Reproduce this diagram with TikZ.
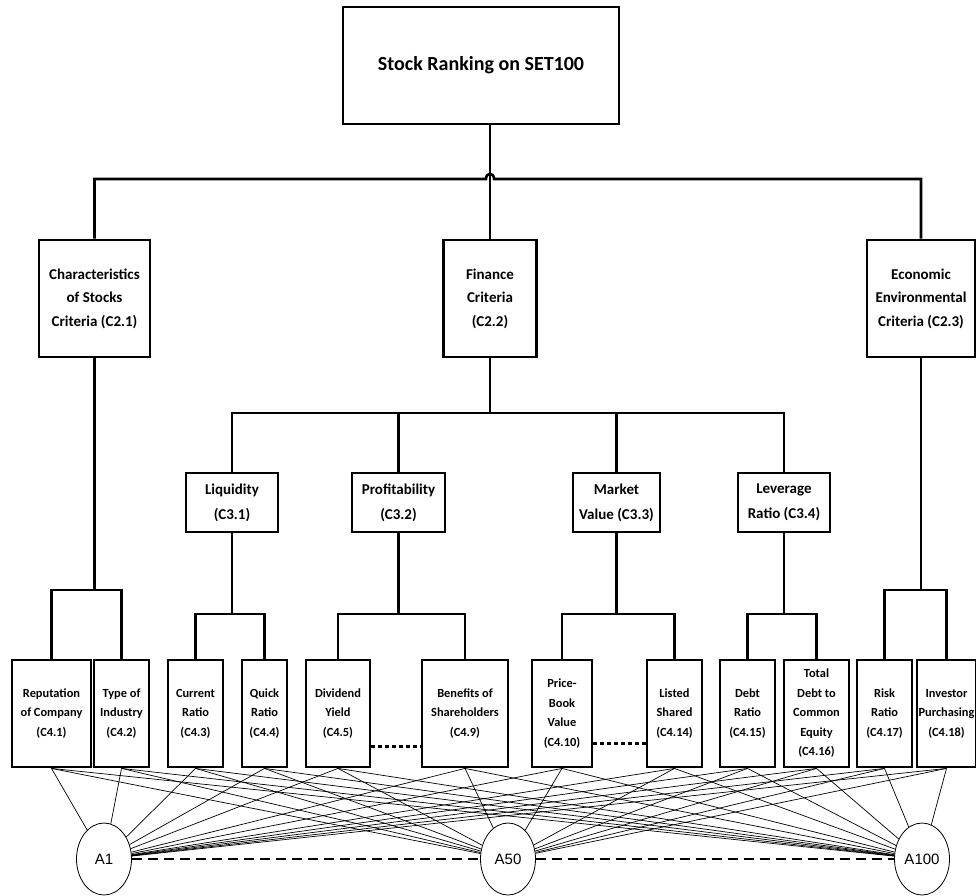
\documentclass[tikz,border=0pt]{standalone}
\usepackage{fontspec}
\setmainfont{Carlito}
\newfontfamily\arialfont{Liberation Sans}
\usetikzlibrary{shapes,calc,positioning}
\tikzstyle{goal}=[rectangle, draw=black, line width=2.6, inner sep=0pt, font=\bfseries\fontsize{20}{24}\selectfont]
\tikzstyle{crit}=[rectangle, draw=black, line width=2.8, inner sep=0pt, align=center, minimum height=117, font=\bfseries\fontsize{15}{23.5}\selectfont]
\tikzstyle{sub}=[rectangle, draw=black, line width=2.8, inner sep=0pt, align=center, minimum height=59, font=\bfseries\fontsize{15}{25}\selectfont]
\tikzstyle{leaf}=[rectangle, draw=black, line width=2.8, inner sep=0pt, align=center, minimum height=107, font=\bfseries\fontsize{12.4}{19.5}\selectfont]
\tikzstyle{alt}=[ellipse, draw=black, line width=0.8, minimum width=55, minimum height=72, inner sep=0pt, font=\arialfont\fontsize{15}{18}\selectfont]
\tikzstyle{l1}=[line width=2.6]
\tikzstyle{l2}=[line width=0.7]
\tikzstyle{dots}=[line width=2.6, dash pattern=on 4pt off 3pt]

\begin{document}
\begin{tikzpicture}[x=1pt, y=-1pt]
    \useasboundingbox (0,0) rectangle (976,895);

    \node[goal, minimum width=276, minimum height=117] at (481,65.5) (top) {Stock Ranking on SET100};

    \node[crit, minimum width=111] at (94.5,298.5) (c21) {Characteristics\\of Stocks\\Criteria (C2.1)};
    \node[crit, minimum width=93] at (490,298.5) (fin) {Finance\\Criteria\\(C2.2)};
    \node[crit, minimum width=108] at (921,298.5) (c23) {Economic\\Environmental\\Criteria (C2.3)};

    \node[sub, minimum width=92] at (232,502.5) (c31) {Liquidity\\(C3.1)};
    \node[sub, minimum width=93] at (398.5,502.5) (c32) {Profitability\\(C3.2)};
    \node[sub, minimum width=87] at (616.5,502.5) (c33) {Market\\Value (C3.3)};
    \node[sub, minimum width=92] at (784,502.5) (c34) {Leverage\\Ratio (C3.4)};

    \node[leaf, minimum width=79] at (51.5,713.5) (c41) {Reputation\\of Company\\(C4.1)};
    \node[leaf, minimum width=55] at (121.5,713.5) (c42) {Type of\\Industry\\(C4.2)};
    \node[leaf, minimum width=55] at (195.5,713.5) (c43) {Current\\Ratio\\(C4.3)};
    \node[leaf, minimum width=45] at (264.5,713.5) (c44) {Quick\\Ratio\\(C4.4)};
    \node[leaf, minimum width=64] at (338,713.5) (c45) {Dividend\\Yield\\(C4.5)};
    \node[leaf, minimum width=86] at (465,713.5) (c49) {Benefits of\\Shareholders\\(C4.9)};
    \node[leaf, minimum width=60] at (562,713.5) (c410) {Price-\\Book\\Value\\(C4.10)};
    \node[leaf, minimum width=55] at (674.5,713.5) (c414) {Listed\\Shared\\(C4.14)};
    \node[leaf, minimum width=55] at (747.5,713.5) (c415) {Debt\\Ratio\\(C4.15)};
    \node[leaf, minimum width=65] at (816.5,713.5) (c416) {Total\\Debt to\\Common\\Equity\\(C4.16)};
    \node[leaf, minimum width=55] at (884.5,713.5) (c417) {Risk\\Ratio\\(C4.17)};
    \node[leaf, minimum width=59] at (946.5,713.5) (c418) {Investor\\Purchasing\\(C4.18)};

    \node[alt] at (104,859) (a1) {A1};
    \node[alt] at (508,859) (a50) {A50};
    \node[alt] at (922,859) (a100) {A100};

    \coordinate (h) at (490,179);
    \coordinate (b2) at (490,413);
    \coordinate (k21) at (95,590);
    \coordinate (k23) at (923,590);
    \coordinate (k31) at (232,614);
    \coordinate (k32) at (398.5,614);
    \coordinate (k33) at (616.5,614);
    \coordinate (k34) at (784,614);

    % goal and criteria
    \draw[l1] (top.south -| fin) -- (fin);
    \draw[l1] (c21) |- ($(h)+(-4,0)$) .. controls ($(h)+(-4,-7)$) and ($(h)+(4,-7)$) .. ($(h)+(4,0)$) -| (c23);

    % sub criteria
    \draw[l1] (fin) -- (b2);
    \draw[l1] (c31) |- (b2) -| (c34);
    \draw[l1] (c32) -- (c32 |- b2);
    \draw[l1] (c33) -- (c33 |- b2);

    % leaves
    \draw[l1] (c21) -- (c21 |- k21);
    \draw[l1] (c41) |- (k21) -| (c42);
    \draw[l1] (c31) -- (k31);
    \draw[l1] (c43) |- (k31) -| (c44);
    \draw[l1] (c32) -- (k32);
    \draw[l1] (c45) |- (k32) -| (c49);
    \draw[l1] (c33) -- (k33);
    \draw[l1] (c410) |- (k33) -| (c414);
    \draw[l1] (c34) -- (k34);
    \draw[l1] (c415) |- (k34) -| (c416);
    \draw[l1] (c23) -- (c23 |- k23);
    \draw[l1] (c417) |- (k23) -| (c418);

    \draw[dots] ($(c45.east)+(0,33)$) -- ($(c49.west)+(0,33)$);
    \draw[dots] ($(c410.east)+(0,30)$) -- ($(c414.west)+(0,30)$);

    % alternatives
    \foreach \b in {c41,c42,c43,c44,c45,c49,c410,c414,c415,c416,c417,c418}
        \foreach \a in {a1,a50,a100}
            \draw[l2] (\b.south) -- (\a);
    \draw[line width=1.5, dash pattern=on 10pt off 6pt] (a1) -- (a50) -- (a100);

\end{tikzpicture}
\end{document}
